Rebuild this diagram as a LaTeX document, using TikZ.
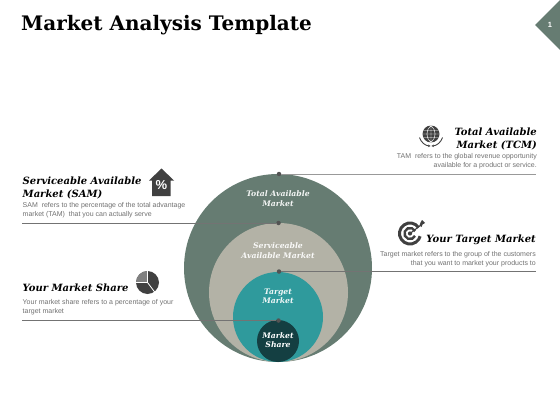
\documentclass[tikz,border=0pt]{standalone}
\usepackage{fontspec}
\setmainfont{DejaVu Serif}
\setsansfont{Liberation Sans}
\usetikzlibrary{arrows.meta}
\definecolor{tam}{HTML}{667C72}
\definecolor{sam}{HTML}{B3B2A6}
\definecolor{tgt}{HTML}{2F9A9C}
\definecolor{shr}{HTML}{143F42}
\definecolor{ink}{HTML}{404040}
\definecolor{body}{HTML}{707070}
\tikzset{
  disc/.style={circle,inner sep=0pt,minimum size=#1,draw=none},
  dot/.style={circle,fill=ink!90,inner sep=0pt,minimum size=4.5pt},
  leader/.style={draw=#1,line width=.7pt},
  head/.style={font=\bfseries\itshape\fontsize{10}{13}\selectfont,text=black,inner sep=0pt},
  copy/.style={font=\sffamily\fontsize{7}{8.9}\selectfont,text=body,inner sep=0pt},
  inner/.style={font=\bfseries\itshape\fontsize{7.7}{9.4}\selectfont,text=#1,align=center,inner sep=0pt},
  icon/.style={fill=ink,draw=none},
}
\begin{document}
\begin{tikzpicture}[x=1pt,y=1pt]
\useasboundingbox (0,0) rectangle (560,-420);
% title
\node[font=\bfseries\fontsize{20}{24}\selectfont,anchor=base west,inner sep=0pt] (title) at (21,-31) {Market Analysis Template};
% corner
\fill[black!17] (531,0) -- (560,0) -- (545.5,14.5) -- cycle;
\fill[tam] (535,-25) -- (560,0) -- (560,-50) -- cycle;
\node[font=\sffamily\bfseries\fontsize{7.5}{8}\selectfont,text=white,inner sep=0pt] (pg) at (550,-25) {1};
% discs
\node[disc=188pt,fill=tam] (dtam) at (278,-268) {};
\node[disc=139pt,fill=sam] (dsam) at (278.5,-292.5) {};
\node[disc=90pt,fill=tgt] (dtgt) at (278,-317) {};
\node[disc=42pt,fill=shr] (dshr) at (278,-341) {};
% disc labels
\node[inner=white!92!tam] (ltam) at (278,-198.5) {Total Available\\Market};
\node[inner=white!92!sam] (lsam) at (278,-250.5) {Serviceable\\Available Market};
\node[inner=white!92!tgt] (ltgt) at (278,-296) {Target\\Market};
\node[inner=white] (lshr) at (278,-340) {Market\\Share};
% leaders
\node[dot] (p1) at (279,-174) {};
\node[dot] (p2) at (278.5,-223) {};
\node[dot] (p3) at (279,-271.5) {};
\node[dot] (p4) at (278.5,-320.5) {};
\coordinate (e1) at (536,-174);
\coordinate (e2) at (22,-223);
\coordinate (e3) at (536,-271.5);
\coordinate (e4) at (22,-320.5);
\draw[leader=black!40] (p1) -- (e1);
\draw[leader=black!55] (p2) -- (e2);
\draw[leader=black!55] (p3) -- (e3);
\draw[leader=black!55] (p4) -- (e4);
% TCM
\node[head,align=right,anchor=north east] (h1) at (537,-127.5) {Total Available\\Market (TCM)};
\node[copy,align=right,anchor=north east] (c1) at (537,-153.5) {TAM\ \ refers to the global revenue opportunity\\available for a product or service.};
% SAM
\node[head,align=left,anchor=north west] (h2) at (22.5,-177) {Serviceable Available\\Market (SAM)};
\node[copy,align=left,anchor=north west] (c2) at (22.5,-202.5) {SAM\ \ refers to the percentage of the total advantage\\market (TAM)\ \ that you can actually serve};
% Target
\node[head,anchor=base east] (h3) at (536,-242) {Your Target Market};
\node[copy,align=right,anchor=north east] (c3) at (536,-251) {Target market refers to the group of the customers\\that you want to market your products to};
% Share
\node[head,anchor=base west] (h4) at (22.5,-291) {Your Market Share};
\node[copy,align=left,anchor=north west] (c4) at (22.5,-299.5) {Your market share refers to a percentage of your\\target market};
% house icon
\fill[icon] (161.5,-168.5) -- (174,-180.5) -- (170.5,-180.5) -- (170.5,-196) -- (152,-196) -- (152,-180.5) -- (149,-180.5) -- cycle;
\node[font=\sffamily\bfseries\fontsize{13}{14}\selectfont,text=white,inner sep=0pt] (pct) at (161.5,-185.5) {\%};
% pie icon
\begin{scope}[shift={(147.5,-282.5)}]
\fill[ink] (0,0) circle (11.5);
\fill[black!50] (0,0) -- (-11.5,0) arc (180:90:11.5) -- cycle;
\draw[white,line width=.8pt] (0,0) -- (0,12) (0,0) -- (-12,0) (0,0) -- (7.5,-10);
\end{scope}
% target icon
\begin{scope}[shift={(410,-233.5)}]
\draw[ink,line width=3pt] (35:10.5) arc (35:345:10.5);
\draw[ink,line width=2.4pt] (25:5.6) arc (25:335:5.6);
\fill[ink] (0,0) circle (2.1);
\draw[ink,line width=1.1pt] (0,0) -- (11,8.5);
\fill[ink] (9.5,8) -- (10.5,11) -- (12,13.5) -- (15,10.5) -- (12.5,9) -- (11.5,6.5) -- cycle;
\end{scope}
% globe icon
\begin{scope}[shift={(431,-134)}]
\fill[ink] (0,0) circle (8.5);
\draw[white,line width=.45pt] (-8.5,0) -- (8.5,0) (0,-8.5) -- (0,8.5)
  (-8,3.5) -- (8,3.5) (-8,-3.5) -- (8,-3.5)
  (0,8.5) .. controls (-5.5,4) and (-5.5,-4) .. (0,-8.5)
  (0,8.5) .. controls (5.5,4) and (5.5,-4) .. (0,-8.5);
\draw[ink,line width=.9pt,-{Stealth[length=2.5pt,width=2.5pt]}] (-11.5,-3.5) arc (197:268:12);
\draw[ink,line width=.9pt,-{Stealth[length=2.5pt,width=2.5pt]}] (11.5,-3.5) arc (-17:-88:12);
\end{scope}
\end{tikzpicture}
\end{document}
